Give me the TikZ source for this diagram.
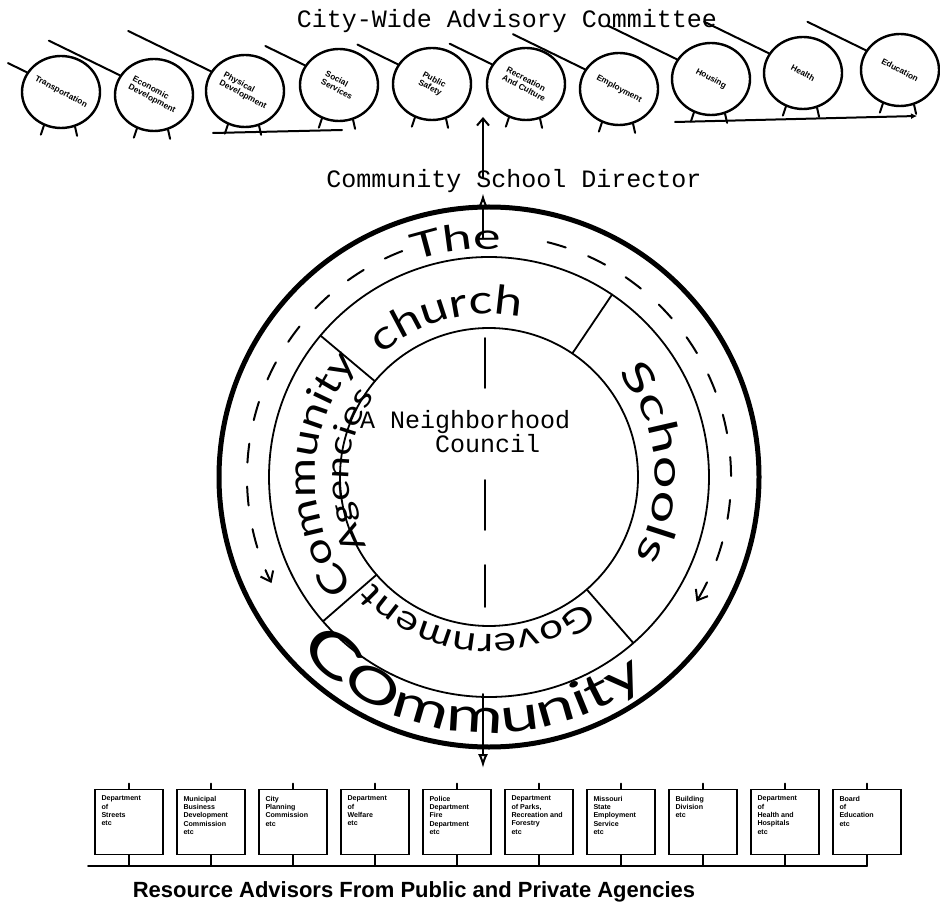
\documentclass[tikz,border=0pt]{standalone}
\usepackage{fontspec}
\usepackage{tikz}
\usetikzlibrary{arrows.meta,positioning,shapes.geometric,decorations.text}

\newfontfamily\typefont{Liberation Mono}
\newfontfamily\signfont{Liberation Sans}
\newfontfamily\hand{Lato}[LetterSpace=12, FakeStretch=1.25]
\newfontfamily\handwide{Lato}[LetterSpace=12, FakeStretch=1.45]
\newcommand{\agency}[1]{\parbox[c][52pt][t]{55pt}{\raggedright #1}}

\tikzset{
  panel/.style={draw, ellipse, line width=2.4pt, minimum width=78pt, minimum height=72pt, inner sep=0pt},
  panel text/.style={rotate=-28, align=left, inner sep=0pt, font=\signfont\bfseries\fontsize{8.3}{9}\selectfont},
  agencybox/.style={draw, line width=1.8pt, inner sep=6.5pt, font=\signfont\bfseries\fontsize{7.1}{8.3}\selectfont},
  ring/.style={line width=1.8pt},
  flow/.style={line width=2pt, dash pattern=on 19pt off 24pt, -{Straight Barb[length=9pt,width=14pt]}},
  axisline/.style={line width=2pt, -{Latex[open,length=14pt,width=10pt]}},
  typed/.style={inner sep=0pt, font=\typefont\fontsize{25}{25}\selectfont},
  hand text/.style={decorate, decoration={text along path, text align=center, text={#1}}}
}

\begin{document}
\begin{tikzpicture}[x=1pt, y=1pt, line cap=round, node distance=82pt]
\useasboundingbox (0,0) rectangle (940,-909);

% committee row
\node[typed, anchor=base] (committee) at (507,-28) {City-Wide Advisory Committee};
\node[panel, label={[panel text]center:Transportation}] (c1) at (61,-92) {};
\node[panel, label={[panel text]center:Economic\\Development}] (c2) at (154,-95) {};
\node[panel, label={[panel text]center:Physical\\Development}] (c3) at (245,-91) {};
\node[panel, label={[panel text]center:Social\\Services}] (c4) at (339,-85) {};
\node[panel, label={[panel text]center:Public\\Safety}] (c5) at (432,-84) {};
\node[panel, label={[panel text]center:Recreation\\And Culture}] (c6) at (526,-84) {};
\node[panel, label={[panel text]center:Employment}] (c7) at (619,-89) {};
\node[panel, label={[panel text]center:Housing}] (c8) at (711,-79) {};
\node[panel, label={[panel text]center:Health}] (c9) at (803,-73) {};
\node[panel, label={[panel text]center:Education}] (c10) at (900,-70) {};

\foreach \c/\len in {1/21,2/79,3/92,4/44,5/45,6/47,7/80,8/77,9/72,10/65}
  \draw[line width=2pt] (c\c.150) -- ++(154:\len)
    (c\c.243) -- ++(-3,-9) (c\c.292) -- ++(2,-9);

\coordinate (shelf1) at (213,-133);
\coordinate (shelf2) at (342,-130);
\coordinate (shelf3) at (675,-122);
\coordinate (shelf4) at (917,-116);
\draw[line width=2pt] (shelf1) -- (shelf2);
\draw[line width=2pt, -{Latex[length=6pt,width=6pt]}] (shelf3) -- (shelf4);

% director
\node[typed, anchor=base] (director) at (514,-188) {Community School Director};
\coordinate (cin) at (483,-117);
\draw[line width=2pt, shorten <=-8pt, -{Straight Barb[length=7pt,width=12pt]}] (director.north -| cin) -- (cin);

% the community wheel
\coordinate (hub) at (489,-477);
\draw[line width=5pt] (hub) circle[radius=270];
\draw[ring] (hub) circle[radius=220];
\draw[ring] (hub) circle[radius=149];
\foreach \a in {140,56,221,-49}
  \draw[ring] (hub) ++(\a:149) -- ++(\a:71);
\draw[flow] (hub) ++(111:242) arc[start angle=111, end angle=206, radius=242];
\draw[flow] (hub) ++(76:242) arc[start angle=76, end angle=-31, radius=242];
\draw[ring, dash pattern=on 50pt off 92pt on 50pt off 35pt on 42pt] (485,-338) -- (485,-607);

\node[typed, anchor=base west] (neigh) at (360,-428) {A Neighborhood};
\node[typed, anchor=base west] (council) at (435,-452) {Council};

\path[hand text={|\handwide\fontsize{36}{36}\selectfont|The}] (hub) ++(130:228) arc[start angle=130, end angle=66, radius=228];
\path[hand text={|\hand\fontsize{40}{40}\selectfont|church}] (hub) ++(165:163) arc[start angle=165, end angle=45, radius=163];
\path[hand text={|\handwide\fontsize{40}{40}\selectfont|Schools}] (hub) ++(65:166) arc[start angle=65, end angle=-55, radius=166];
\path[hand text={|\hand\fontsize{34}{34}\selectfont|Government}] (hub) ++(325:157) arc[start angle=325, end angle=205, radius=157];
\path[hand text={|\hand\fontsize{38}{38}\selectfont|Community}] (hub) ++(239:174) arc[start angle=239, end angle=119, radius=174];
\path[hand text={|\hand\fontsize{32}{32}\selectfont|Agencies}] (hub) ++(237:140) arc[start angle=237, end angle=117, radius=140];
\path[hand text={|\handwide\fontsize{58}{58}\selectfont|C|\handwide\fontsize{48}{48}\selectfont|Ommunity}] (hub) ++(190:256) arc[start angle=190, end angle=340, radius=256];

\coordinate (crown) at (483,-238);
\coordinate (keel) at (483,-694);
\coordinate (drop) at (483,-768);
\draw[axisline] (crown) -- (director.south -| crown);
\draw[axisline] (keel) -- (drop);

% resource advisors
\node[agencybox] (b1) at (129,-822) {\agency{Department\\of\\Streets\\etc}};
\node[agencybox] (b2) [right of=b1] {\agency{Municipal\\Business\\Development\\Commission\\etc}};
\node[agencybox] (b3) [right of=b2] {\agency{City\\Planning\\Commission\\etc}};
\node[agencybox] (b4) [right of=b3] {\agency{Department\\of\\Welfare\\etc}};
\node[agencybox] (b5) [right of=b4] {\agency{Police\\Department\\Fire\\Department\\etc}};
\node[agencybox] (b6) [right of=b5] {\agency{Department\\of Parks,\\Recreation and\\Forestry\\etc}};
\node[agencybox] (b7) [right of=b6] {\agency{Missouri\\State\\Employment\\Service\\etc}};
\node[agencybox] (b8) [right of=b7] {\agency{Building\\Division\\etc}};
\node[agencybox] (b9) [right of=b8] {\agency{Department\\of\\Health and\\Hospitals\\etc}};
\node[agencybox] (b10) [right of=b9] {\agency{Board\\of\\Education\\etc}};

\coordinate (rail) at (88,-866);
\draw[line width=1.8pt] (rail) -- (rail -| b10.south);
\foreach \b in {1,...,10}
  \draw[line width=1.8pt] (b\b.north) -- ++(0,5) (b\b.south) -- (b\b.south |- rail);

\node[anchor=base, inner sep=0pt, font=\signfont\bfseries\fontsize{22}{22}\selectfont] (resource) at (414,-897) {Resource Advisors From Public and Private Agencies};
\end{tikzpicture}
\end{document}
